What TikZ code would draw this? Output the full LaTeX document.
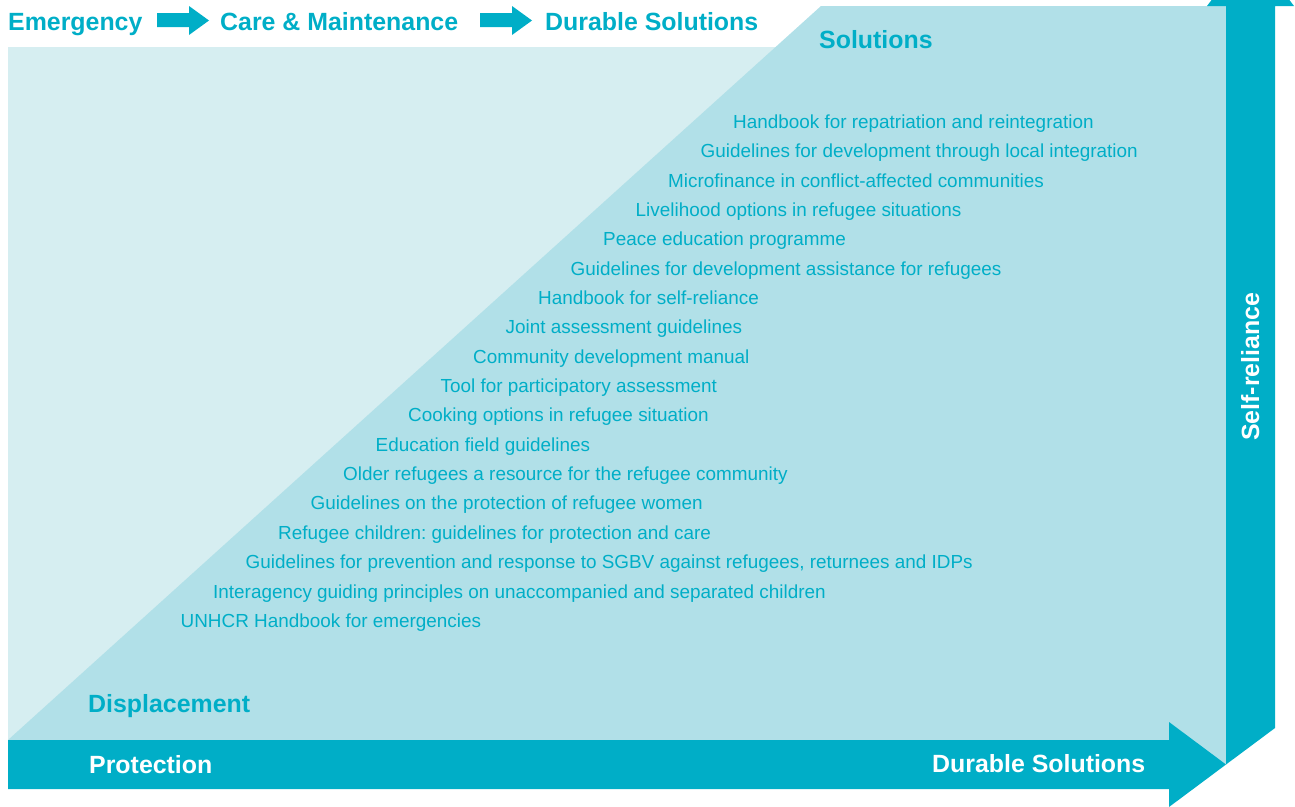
\documentclass[tikz,border=0pt]{standalone}
\usepackage{fontspec}
\setmainfont{Liberation Sans}
\usetikzlibrary{positioning}

\definecolor{unteal}{RGB}{0,174,199}
\definecolor{palecyan}{RGB}{214,238,241}
\definecolor{midcyan}{RGB}{177,224,232}

\frenchspacing

\begin{document}
\begin{tikzpicture}[
    x=1pt, y=-1pt,
    heading/.style={font=\bfseries\fontsize{24.9}{28}\selectfont, text=unteal, inner sep=0pt, anchor=base west},
    bandtext/.style={heading, text=white},
    item/.style={font=\fontsize{18.9}{22}\selectfont, text=unteal, inner sep=0pt, anchor=base west},
    band/.style={fill=unteal, draw=none}
]

\useasboundingbox (0,0) rectangle (1295,806);
\clip (0,0) rectangle (1295,806);

% Background -------------------------------------------------

\fill[palecyan] (8,47) rectangle (822,740);
\fill[midcyan] (8,740) -- (821,6) -- (1226,6) -- (1226,764.5) -- (1169,740) -- cycle;

% Arrows ---------------------------------------------------

\fill[band] (8,740) -- (1169,740) -- (1169,722) -- (1226,764.5) -- (1169,807) -- (1169,789) -- (8,789) -- cycle;
\fill[band] (1226,764.5) -- (1226,6) -- (1207,6) -- (1250.5,-51) -- (1294,6) -- (1275,6) -- (1275,728) -- cycle;

\foreach \ax in {157,480}
    \fill[band] (\ax,13) -- ++(32,0) -- ++(0,-7) -- ++(20,14.5) -- ++(-20,14.5) -- ++(0,-8) -- ++(-32,0) -- cycle;

% Nodes ------------------------------------------------------

\node[heading] (emergency) at (8,30) {Emergency};
\node[heading] (care) at (220,30) {Care \& Maintenance};
\node[heading] (durable) at (545,30) {Durable Solutions};

\node[heading] (solutions) at (819,48.5) {Solutions};
\node[heading] (displacement) at (88,712.7) {Displacement};

\node[bandtext] (protection) at (89,773) {Protection};
\node[bandtext] (durablesol) at (932,772.5) {Durable Solutions};
\node[bandtext, rotate=90] (selfreliance) at (1259,441) {Self-reliance};

\foreach \txt [count=\i from 0] in {
    Handbook for repatriation and reintegration,
    Guidelines for development through local integration,
    Microfinance in conflict-affected communities,
    Livelihood options in refugee situations,
    Peace education programme,
    Guidelines for development assistance for refugees,
    Handbook for self-reliance,
    Joint assessment guidelines,
    Community development manual,
    Tool for participatory assessment,
    Cooking options in refugee situation,
    Education field guidelines,
    Older refugees a resource for the refugee community,
    Guidelines on the protection of refugee women,
    Refugee children: guidelines for protection and care,
    {Guidelines for prevention and response to SGBV against refugees, returnees and IDPs},
    Interagency guiding principles on unaccompanied and separated children,
    UNHCR Handbook for emergencies}
    \node[item] (guide\i) at ({733-32.5*\i},{128.4+29.35*\i}) {\txt};

\end{tikzpicture}
\end{document}
